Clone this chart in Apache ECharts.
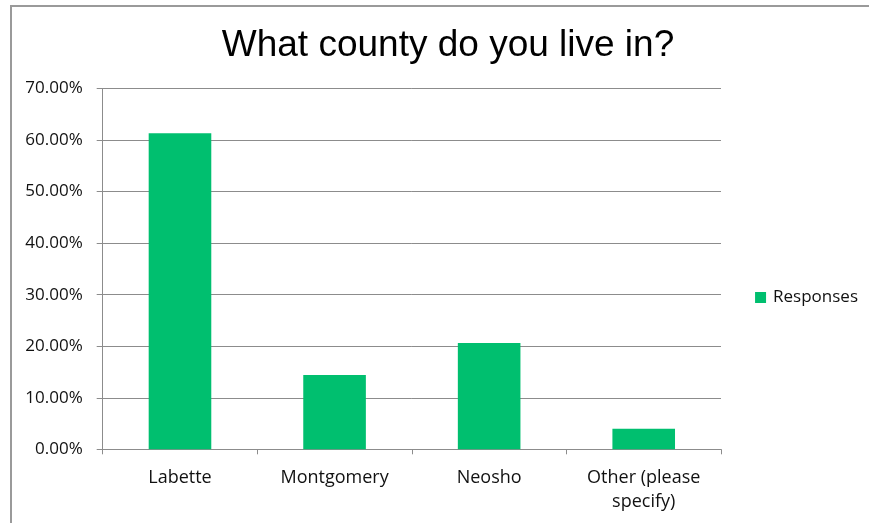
<!DOCTYPE html>
<html>
<head>
<meta charset="utf-8">
<script src="https://cdn.jsdelivr.net/npm/echarts@6/dist/echarts.min.js"></script>
<style>
  html, body { margin: 0; padding: 0; background: #ffffff; }
  #chart { width: 869px; height: 523px; }
</style>
</head>
<body>
<div id="chart"></div>
<script>
// Survey question: county of residence
const chartTitle = 'What county do you live in?';
const seriesName = 'Responses';
const categories = ['Labette', 'Montgomery', 'Neosho', 'Other (please\nspecify)'];
const responses = [61.3, 14.4, 20.6, 4.0];   // percent of respondents
const yTicks = { min: 0, max: 70, interval: 10 };

const labelFont = '"Open Sans", Lato, sans-serif';
const green = '#00BF6F';
const axisGray = '#8c8c8c';

const chart = echarts.init(document.getElementById('chart'), null, { renderer: 'canvas' });

chart.setOption({
  backgroundColor: '#ffffff',
  animation: false,
  title: {
    text: chartTitle,
    left: 443,
    textAlign: 'center',
    top: 22,
    textStyle: {
      fontFamily: '"Liberation Sans", Arial, sans-serif',
      fontWeight: 'normal',
      fontSize: 37,
      color: '#000000'
    }
  },
  legend: {
    data: [seriesName],
    right: 6,
    top: 284,
    orient: 'vertical',
    itemWidth: 11,
    itemHeight: 11,
    itemGap: 7,
    icon: 'rect',
    textStyle: { fontFamily: labelFont, fontSize: 17, color: '#111111', padding: [0, 0, 0, 2] }
  },
  grid: { left: 102.7, right: 148, top: 88.5, bottom: 73.7, containLabel: false },
  xAxis: {
    type: 'category',
    data: categories,
    axisLine: { lineStyle: { color: axisGray, width: 1 } },
    axisTick: { show: true, length: 5, alignWithLabel: false, lineStyle: { color: axisGray } },
    axisLabel: {
      fontFamily: labelFont,
      fontSize: 18,
      color: '#111111',
      margin: 17,
      lineHeight: 23.5,
      interval: 0
    }
  },
  yAxis: {
    type: 'value',
    min: yTicks.min,
    max: yTicks.max,
    interval: yTicks.interval,
    axisLine: { show: true, lineStyle: { color: axisGray, width: 1 } },
    axisTick: { show: true, length: 6, lineStyle: { color: axisGray } },
    splitLine: { lineStyle: { color: axisGray, width: 1 } },
    axisLabel: {
      fontFamily: labelFont,
      fontSize: 17,
      color: '#111111',
      margin: 20,
      formatter: v => v.toFixed(2) + '%'
    }
  },
  series: [{
    name: seriesName,
    type: 'bar',
    data: responses,
    barWidth: '40.5%',
    itemStyle: { color: green },
    label: { show: false }
  }],
  graphic: [
    // thin gray frame along the top and left edges
    { type: 'line', shape: { x1: 10, y1: 6, x2: 869, y2: 6 }, style: { stroke: '#9a9a9a', lineWidth: 2 }, silent: true },
    { type: 'line', shape: { x1: 11, y1: 5, x2: 11, y2: 523 }, style: { stroke: '#9a9a9a', lineWidth: 2 }, silent: true }
  ]
});
</script>
</body>
</html>
